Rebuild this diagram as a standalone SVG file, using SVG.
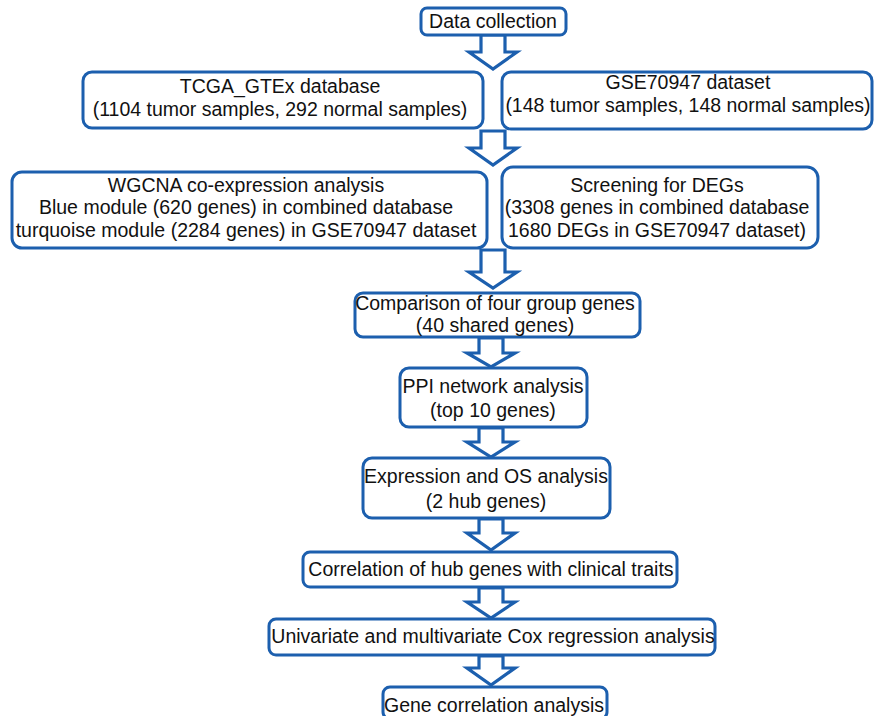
<svg xmlns="http://www.w3.org/2000/svg" width="874" height="716" viewBox="0 0 874 716">
<style>
.box{fill:#fff;stroke:#1c5fae;stroke-width:3}
.arr{fill:#fff;stroke:#1c5fae;stroke-width:3.2;stroke-linejoin:miter}
text{font-family:"Liberation Sans",Arial,sans-serif;font-size:19.5px;fill:#111;text-anchor:middle}
</style>
<rect width="874" height="716" fill="#fff"/>
<g id="connectors">
<path class="arr" d="M481,35 V52 H469 L493,69 L517,52 H505 V35 Z"/>
<path class="arr" d="M481,131 V148 H469 L493,165 L517,148 H505 V131 Z"/>
<path class="arr" d="M481,250 V272 H469 L493,288 L517,272 H505 V250 Z"/>
<path class="arr" d="M479,338 V353 H467 L491,367 L515,353 H503 V338 Z"/>
<path class="arr" d="M479,428 V442 H467 L491,457 L515,442 H503 V428 Z"/>
<path class="arr" d="M479,519 V533 H467 L491,550 L515,533 H503 V519 Z"/>
<path class="arr" d="M479,588 V602 H467 L491,618 L515,602 H503 V588 Z"/>
<path class="arr" d="M479,656 V668 H467 L491,685 L515,668 H503 V656 Z"/>
</g>
<g id="data-collection">
<rect class="box" x="421" y="8" width="145" height="27" rx="6"/>
<text x="493" y="28">Data collection</text>
</g>
<g id="tcga">
<rect class="box" x="83" y="72" width="400" height="56" rx="9"/>
<text x="280" y="93">TCGA_GTEx database</text>
<text x="280" y="116">(1104 tumor samples, 292 normal samples)</text>
</g>
<g id="gse">
<rect class="box" x="502" y="72" width="370" height="57" rx="9"/>
<text x="688" y="89">GSE70947 dataset</text>
<text x="688" y="112">(148 tumor samples, 148 normal samples)</text>
</g>
<g id="wgcna">
<rect class="box" x="12" y="172" width="475" height="76" rx="10"/>
<text x="246" y="192">WGCNA co-expression analysis</text>
<text x="246" y="214">Blue module (620 genes) in combined database</text>
<text x="246" y="237">turquoise module (2284 genes) in GSE70947 dataset</text>
</g>
<g id="degs">
<rect class="box" x="502" y="167" width="316" height="81" rx="11"/>
<text x="657" y="192">Screening for DEGs</text>
<text x="657" y="214">(3308 genes in combined database</text>
<text x="657" y="237">1680 DEGs in GSE70947 dataset)</text>
</g>
<g id="comparison">
<rect class="box" x="355" y="293" width="285" height="44" rx="8"/>
<text x="495" y="310">Comparison of four group genes</text>
<text x="495" y="332">(40 shared genes)</text>
</g>
<g id="ppi">
<rect class="box" x="400" y="368" width="187" height="59" rx="9"/>
<text x="493" y="393">PPI network analysis</text>
<text x="493" y="417">(top 10 genes)</text>
</g>
<g id="expression">
<rect class="box" x="363" y="458" width="247" height="60" rx="9"/>
<text x="486" y="483">Expression and OS analysis</text>
<text x="486" y="508">(2 hub genes)</text>
</g>
<g id="clinical">
<rect class="box" x="303" y="552" width="374" height="35" rx="7"/>
<text x="491" y="576">Correlation of hub genes with clinical traits</text>
</g>
<g id="cox">
<rect class="box" x="269" y="619" width="446" height="36" rx="7"/>
<text x="493" y="643">Univariate and multivariate Cox regression analysis</text>
</g>
<g id="gene-correlation">
<rect class="box" x="383" y="687" width="224" height="32" rx="7"/>
<text x="494" y="712">Gene correlation analysis</text>
</g>
</svg>
